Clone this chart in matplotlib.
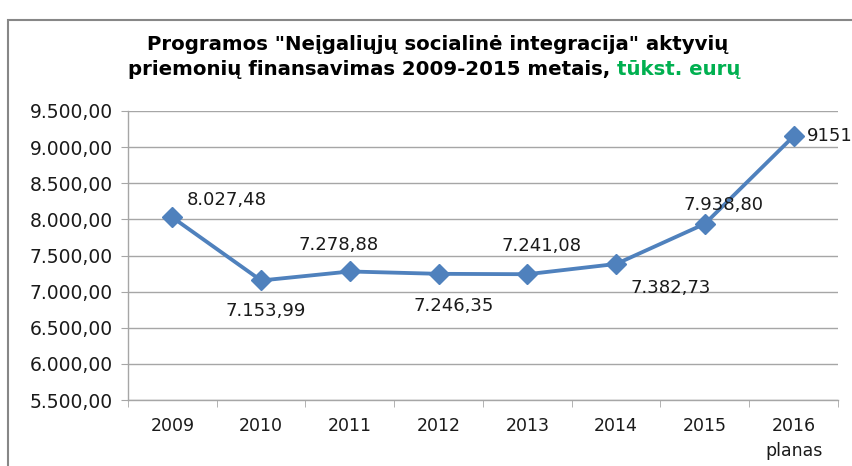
import matplotlib
matplotlib.use("Agg")
import matplotlib.pyplot as plt
from matplotlib.patches import Rectangle

years = ["2009", "2010", "2011", "2012", "2013", "2014", "2015", "2016\nplanas"]
funding = [8027.48, 7153.99, 7278.88, 7246.35, 7241.08, 7382.73, 7938.80, 9151]
value_labels = ["8.027,48", "7.153,99", "7.278,88", "7.246,35", "7.241,08", "7.382,73", "7.938,80", "9151"]
y_ticks = [5500, 6000, 6500, 7000, 7500, 8000, 8500, 9000, 9500]

# label offsets in pixels (dx, dy) relative to the marker, and alignment
label_offsets = [(54, 17), (5, -31), (-11, 26), (15, -32), (14, 28), (55, -24), (19, 19), (13, 0)]
label_ha = ["center"] * 7 + ["left"]

LINE_COLOR = "#4F81BD"
GRID_COLOR = "#A6A6A6"
TITLE_GREEN = "#00B050"
TEXT_COLOR = "#1a1a1a"


def fmt_lt(v):
    s = f"{v:,.2f}"
    return s.replace(",", " ").replace(".", ",").replace(" ", ".")


fig = plt.figure(figsize=(8.53, 4.66), dpi=100)
ax = fig.add_axes([128 / 853, 1 - 400 / 466, 710 / 853, 289 / 466])

# outer chart frame
fig.patches.append(Rectangle((8 / 853, -0.2), 1.2, 1.2 - 20 / 466,
                             transform=fig.transFigure, fill=False,
                             edgecolor="#878787", linewidth=1.5))

x = list(range(len(years)))
ax.plot(x, funding, color=LINE_COLOR, linewidth=2.75, marker="D", markersize=10,
        markerfacecolor=LINE_COLOR, markeredgecolor=LINE_COLOR, zorder=3, clip_on=False)

for xi, v, lab, (dx, dy), ha in zip(x, funding, value_labels, label_offsets, label_ha):
    ax.annotate(lab, (xi, v), xytext=(dx, dy), textcoords="offset pixels",
                ha=ha, va="center", fontsize=13, family="DejaVu Sans",
                color=TEXT_COLOR, annotation_clip=False)

ax.set_xlim(-0.5, len(years) - 0.5)
ax.set_ylim(5500, 9500)
ax.set_yticks(y_ticks)
ax.set_yticklabels([fmt_lt(t) for t in y_ticks], family="DejaVu Sans", fontsize=13.5, color=TEXT_COLOR)
ax.set_xticks(x)
ax.set_xticklabels(years, family="DejaVu Sans", fontsize=12.5, color=TEXT_COLOR, linespacing=1.45)
ax.set_xticks([i - 0.5 for i in range(len(years) + 1)], minor=True)
ax.tick_params(axis="x", which="major", length=0, pad=12.5)
ax.tick_params(axis="x", which="minor", length=5, color=GRID_COLOR, direction="out")
ax.tick_params(axis="y", length=5, color=GRID_COLOR, pad=6)

ax.grid(axis="y", color=GRID_COLOR, linewidth=1)
ax.set_axisbelow(True)
for side in ["top", "right"]:
    ax.spines[side].set_visible(False)
for side in ["left", "bottom"]:
    ax.spines[side].set_color(GRID_COLOR)
    ax.spines[side].set_linewidth(1)

# title, second line has a green unit part
title_kw = dict(fontsize=14.2, family="DejaVu Sans", fontweight="bold", va="baseline")
fig.text(438 / 853, 1 - 50 / 466, 'Programos "Neįgaliųjų socialinė integracija" aktyvių',
         ha="center", **title_kw)
part1 = fig.text(0, 1 - 75 / 466, "priemonių finansavimas 2009-2015 metais, ", ha="left", **title_kw)
part2 = fig.text(0, 1 - 75 / 466, "tūkst. eurų", ha="left", color=TITLE_GREEN, **title_kw)

fig.canvas.draw()
r = fig.canvas.get_renderer()
w1 = part1.get_window_extent(r).width
w2 = part2.get_window_extent(r).width
start = 434 - (w1 + w2) / 2
part1.set_x(start / 853)
part2.set_x((start + w1) / 853)

fig.savefig("out.png", dpi=100)
